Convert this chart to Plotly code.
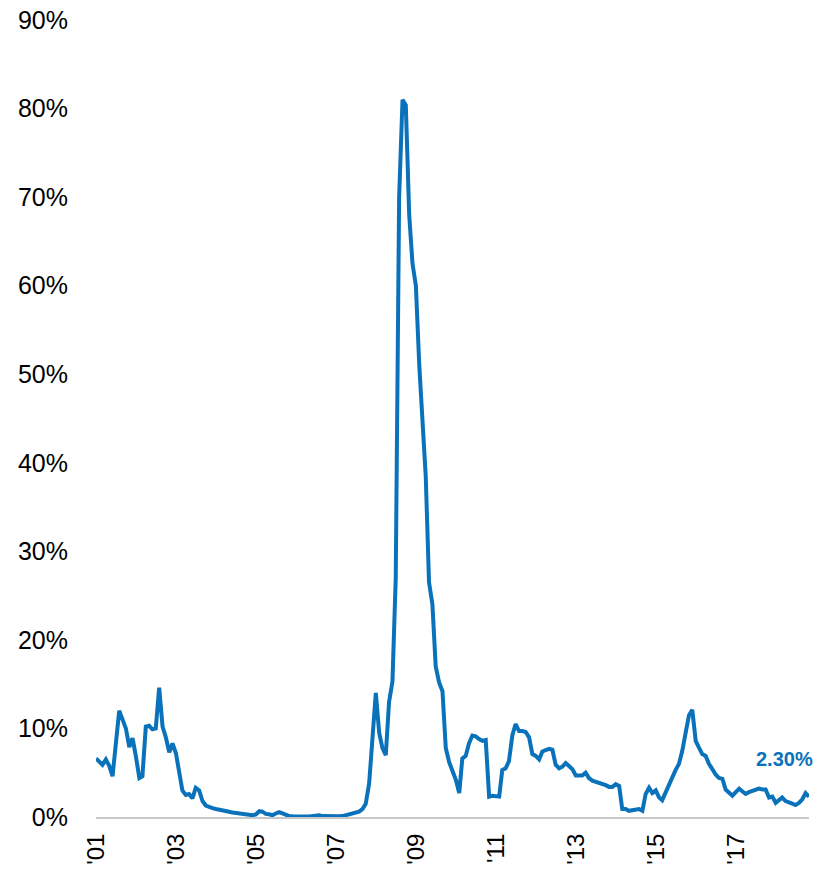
import pandas as pd
import plotly.graph_objects as go

# Monthly series, Jan 2001 onward (percent)
values = [
    6.6, 6.2, 5.9, 6.5, 5.8, 4.6, 8.5, 12.0, 11.0, 10.0, 7.9, 8.9,          # 2001
    6.8, 4.4, 4.6, 10.2, 10.3, 9.9, 10.0, 14.6, 10.2, 9.0, 7.3, 8.3,       # 2002
    7.2, 4.6, 3.0, 2.5, 2.6, 2.1, 3.3, 3.0, 1.8, 1.3, 1.1, 1.0,            # 2003
    0.9, 0.85, 0.8, 0.7, 0.6, 0.5, 0.45, 0.4, 0.4, 0.3, 0.25, 0.2,         # 2004
    0.3, 0.65, 0.6, 0.35, 0.3, 0.2, 0.4, 0.55, 0.4, 0.2, 0.1, 0.08,        # 2005
    0.05, 0.05, 0.05, 0.05, 0.06, 0.1, 0.2, 0.2, 0.1, 0.08, 0.05, 0.05,    # 2006
    0.05, 0.08, 0.1, 0.2, 0.3, 0.5, 0.6, 0.6, 0.9, 1.5, 3.8, 8.5,          # 2007
    14.0, 9.5, 7.8, 7.0, 13.0, 15.3, 27.0, 70.0, 81.0, 80.4, 68.0, 62.5,   # 2008
    60.0, 51.0, 44.0, 38.5, 26.5, 24.0, 17.0, 15.2, 14.2, 7.8, 6.2, 5.3,   # 2009
    4.2, 2.7, 6.6, 6.9, 8.3, 9.2, 9.1, 8.8, 8.6, 8.7, 2.3, 2.4,            # 2010
    2.4, 2.3, 5.3, 5.5, 6.3, 9.2, 10.5, 9.7, 9.7, 9.6, 9.0, 7.1,           # 2011
    6.9, 6.5, 7.4, 7.5, 7.7, 7.6, 5.9, 5.5, 5.7, 6.1, 5.8, 5.4,            # 2012
    4.7, 4.7, 4.7, 5.0, 4.4, 4.1, 4.0, 3.9, 3.8, 3.6, 3.4, 3.4,            # 2013
    3.7, 3.5, 0.9, 0.9, 0.7, 0.75, 0.8, 0.9, 0.7, 2.6, 3.3, 2.7,           # 2014
    3.0, 2.2, 1.9, 2.8, 3.7, 4.5, 5.3, 6.0, 7.5, 9.5, 11.5, 12.1,          # 2015
    8.6, 7.8, 7.1, 6.9, 6.0, 5.4, 4.8, 4.4, 4.3, 3.1, 2.8, 2.4,            # 2016
    2.8, 3.2, 2.9, 2.6, 2.8, 2.9, 3.1, 3.2, 3.1, 3.1, 2.2, 2.3,            # 2017
    1.6, 2.0, 2.2, 1.8, 1.7, 1.5, 1.35, 1.6, 2.0, 2.7, 2.30,               # 2018
]
dates = pd.date_range("2001-01-01", periods=len(values), freq="MS")

tick_years = [2001, 2003, 2005, 2007, 2009, 2011, 2013, 2015, 2017]
tick_vals = [pd.Timestamp(f"{y}-01-01") for y in tick_years]
tick_text = [f"'{str(y)[2:]}" for y in tick_years]

y_ticks = [0, 10, 20, 30, 40, 50, 60, 70, 80, 90]
y_text = [f"{v}%" for v in y_ticks]

blue = "#0a72ba"
font_family = "Arial, Liberation Sans, sans-serif"

fig = go.Figure()
fig.add_trace(go.Scatter(
    x=dates, y=values, mode="lines",
    line=dict(color=blue, width=4),
    hoverinfo="skip", showlegend=False,
))

fig.add_annotation(
    x=dates[-1], y=values[-1], text=f"<b>{values[-1]:.2f}%</b>",
    showarrow=False, xanchor="right", yanchor="middle",
    xshift=6, yshift=38,
    font=dict(family=font_family, size=20, color=blue),
)

fig.update_layout(
    width=835, height=869,
    margin=dict(l=96, r=26, t=20, b=52),
    paper_bgcolor="white", plot_bgcolor="white",
    font=dict(family=font_family, size=25, color="#000000"),
    xaxis=dict(
        range=[dates[0], dates[-1]], automargin=False,
        tickmode="array", tickvals=tick_vals, ticktext=tick_text,
        tickangle=-90, showgrid=False, zeroline=False,
        showline=True, linecolor="#c8c8c8", linewidth=2,
        ticks="outside", ticklen=5, tickcolor="rgba(0,0,0,0)",
        tickfont=dict(size=24),
    ),
    yaxis=dict(
        range=[0, 90], automargin=False,
        tickmode="array", tickvals=y_ticks, ticktext=y_text,
        showgrid=False, zeroline=False, showline=False,
        ticks="outside", ticklen=22, tickcolor="rgba(0,0,0,0)",
        tickfont=dict(size=25),
    ),
)

fig.write_html("out.html")
